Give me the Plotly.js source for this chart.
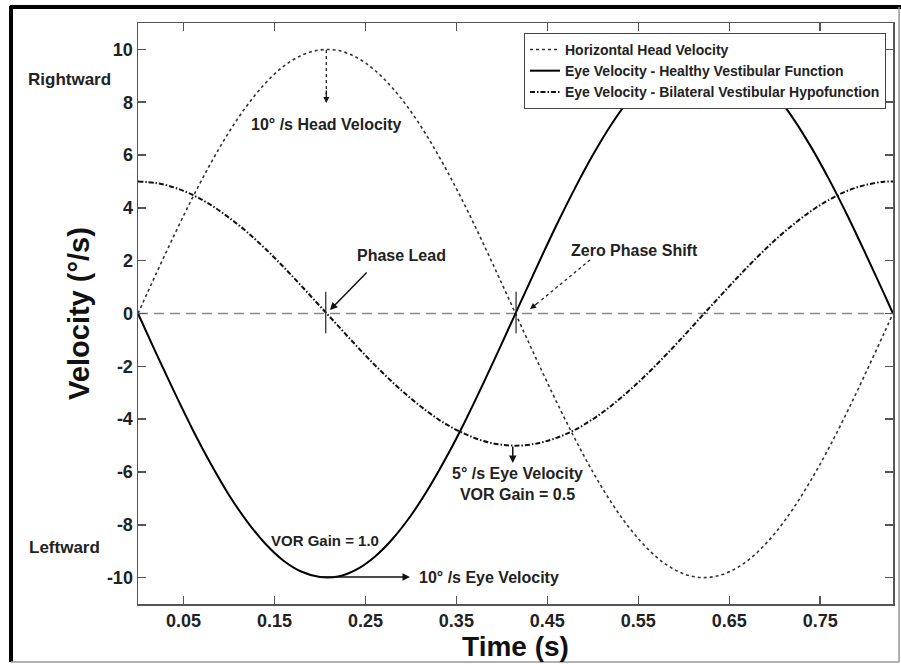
<!DOCTYPE html>
<html>
<head>
<meta charset="utf-8">
<script src="https://cdn.plot.ly/plotly-3.0.1.min.js"></script>
<style>html,body{margin:0;padding:0;background:#fff;}#chart{width:901px;height:664px;}</style>
</head>
<body>
<div id="chart"></div>
<script>
// Time (s)
const time = [0,0.02,0.04,0.06,0.08,0.10,0.12,0.14,0.16,0.18,0.20,0.22,0.24,0.26,0.28,0.30,0.32,0.34,0.36,0.38,0.40,0.42,0.44,0.46,0.48,0.50,0.52,0.54,0.56,0.58,0.60,0.62,0.64,0.66,0.68,0.70,0.72,0.74,0.76,0.78,0.80,0.82,0.83];
// Horizontal head velocity (deg/s)
const headVelocity = [0,1.51,2.98,4.39,5.69,6.87,7.88,8.72,9.36,9.78,9.98,9.96,9.70,9.22,8.53,7.65,6.59,5.38,4.05,2.62,1.13,-0.38,-1.88,-3.34,-4.72,-6.00,-7.14,-8.11,-8.90,-9.49,-9.86,-10.0,-9.91,-9.60,-9.07,-8.33,-7.40,-6.30,-5.06,-3.70,-2.25,-0.76,0];
// Eye velocity, healthy vestibular function (deg/s)
const eyeHealthy = [0,-1.51,-2.98,-4.39,-5.69,-6.87,-7.88,-8.72,-9.36,-9.78,-9.98,-9.96,-9.70,-9.22,-8.53,-7.65,-6.59,-5.38,-4.05,-2.62,-1.13,0.38,1.88,3.34,4.72,6.00,7.14,8.11,8.90,9.49,9.86,10.0,9.91,9.60,9.07,8.33,7.40,6.30,5.06,3.70,2.25,0.76,0];
// Eye velocity, bilateral vestibular hypofunction (deg/s)
const eyeHypo = [5.0,4.94,4.77,4.49,4.11,3.63,3.08,2.45,1.76,1.03,0.28,-0.47,-1.22,-1.94,-2.61,-3.22,-3.76,-4.22,-4.57,-4.83,-4.97,-5.0,-4.91,-4.71,-4.41,-4.00,-3.50,-2.92,-2.28,-1.58,-0.85,-0.09,0.66,1.40,2.11,2.77,3.36,3.88,4.31,4.65,4.87,4.99,5.0];
const seriesNames = ["Horizontal Head Velocity","Eye Velocity - Healthy Vestibular Function","Eye Velocity - Bilateral Vestibular Hypofunction"];
const xTickVals = [0.05,0.15,0.25,0.35,0.45,0.55,0.65,0.75];
const xTickText = ["0.05","0.15","0.25","0.35","0.45","0.55","0.65","0.75"];
const yTickVals = [-10,-8,-6,-4,-2,0,2,4,6,8,10];
const yTickText = ["-10","-8","-6","-4","-2","0","2","4","6","8","10"];

const FONT = "Liberation Sans, Arial, Helvetica, sans-serif";

const traces = [
  {x: time, y: headVelocity, name: seriesNames[0], mode: "lines",
   line: {color: "#333", width: 1.6, dash: "dot", shape: "spline"}},
  {x: time, y: eyeHealthy, name: seriesNames[1], mode: "lines",
   line: {color: "#000", width: 2, shape: "spline"}},
  {x: time, y: eyeHypo, name: seriesNames[2], mode: "lines",
   line: {color: "#111", width: 2, dash: "5px,2px,1.5px,2px", shape: "spline"}}
];

const axisCommon = {
  showline: true, linecolor: "#555", linewidth: 1.5, mirror: "ticks",
  ticks: "inside", ticklen: 8, tickwidth: 1.5, tickcolor: "#555",
  showgrid: false, zeroline: false,
  tickfont: {family: FONT, size: 18, color: "#222", weight: "bold"}
};

const ann = [];
function txt(text, x, y, size, opts) {
  ann.push(Object.assign({text: text, x: x, y: y, xref: "x", yref: "y", showarrow: false,
    font: {family: FONT, size: size, color: "#222", weight: "bold"}}, opts || {}));
}
function arrow(x, y, ax, ay, w) {
  ann.push({text: "", x: x, y: y, ax: ax, ay: ay, xref: "x", yref: "y", axref: "x", ayref: "y",
    showarrow: true, arrowhead: 2, arrowsize: 1, arrowwidth: w || 1.5, arrowcolor: "#111"});
}
txt("10° /s Head Velocity", 0.207, 7.14, 16);
txt("Phase Lead", 0.290, 2.18, 16);
txt("Zero Phase Shift", 0.546, 2.37, 16);
txt("5° /s Eye Velocity<br>VOR Gain = 0.5", 0.417, -6.47, 16);
txt("VOR Gain = 1.0", 0.206, -8.58, 15);
txt("10° /s Eye Velocity", 0.307, -9.98, 16, {xanchor: "left"});
ann.push({text: "Rightward", xref: "paper", yref: "paper", x: -0.0901, y: 0.9036, xanchor: "center", yanchor: "middle", showarrow: false,
  font: {family: FONT, size: 17, color: "#222", weight: "bold"}});
ann.push({text: "Leftward", xref: "paper", yref: "paper", x: -0.098, y: 0.0981, xanchor: "center", yanchor: "middle", showarrow: false,
  font: {family: FONT, size: 17, color: "#222", weight: "bold"}});

arrow(0.207, 7.97, 0.207, 8.5, 1.2);
arrow(0.211, 0.13, 0.253, 1.61, 1.5);
arrow(0.431, 0.17, 0.442, 0.47, 1.2);
arrow(0.412, -5.66, 0.412, -4.98, 1.5);
arrow(0.299, -9.98, 0.198, -9.98, 1.5);

const shapes = [
  // zero reference line
  {type: "line", xref: "x", yref: "y", x0: 0, x1: 0.83, y0: 0, y1: 0, layer: "below",
   line: {color: "#888", width: 1.5, dash: "10px,6px"}},
  // phase markers
  {type: "line", xref: "x", yref: "y", x0: 0.2064, x1: 0.2064, y0: 0.82, y1: -0.75, line: {color: "#222", width: 1.2}},
  {type: "line", xref: "x", yref: "y", x0: 0.4156, x1: 0.4156, y0: 0.82, y1: -0.75, line: {color: "#222", width: 1.2}},
  // dotted arrow shafts
  {type: "line", xref: "x", yref: "y", x0: 0.207, x1: 0.207, y0: 9.98, y1: 8.3, line: {color: "#222", width: 1.3, dash: "dot"}},
  {type: "line", xref: "x", yref: "y", x0: 0.497, x1: 0.442, y0: 2.03, y1: 0.47, line: {color: "#222", width: 1.3, dash: "dot"}},
  // outer frame
  {type: "line", xref: "paper", yref: "paper", x0: -0.1695, x1: 1.0120, y0: 1.0275, y1: 1.0275, line: {color: "#000", width: 4}},
  {type: "line", xref: "paper", yref: "paper", x0: -0.1682, x1: -0.1682, y0: 1.0295, y1: -0.0998, line: {color: "#000", width: 4}},
  {type: "line", xref: "paper", yref: "paper", x0: -0.1682, x1: 1.0080, y0: -0.0998, y1: -0.0998, line: {color: "#999", width: 1.5}},
  {type: "line", xref: "paper", yref: "paper", x0: 1.0080, x1: 1.0080, y0: 1.0275, y1: -0.0998, line: {color: "#999", width: 1.5}}
];

const layout = {
  width: 901, height: 664,
  margin: {l: 138, r: 8, t: 23, b: 60},
  paper_bgcolor: "#fff", plot_bgcolor: "#fff",
  font: {family: FONT, color: "#222", weight: "bold"},
  showlegend: true,
  legend: {x: 0.9907, xanchor: "right", y: 0.983, yanchor: "top",
    bgcolor: "#fff", bordercolor: "#444", borderwidth: 1,
    font: {family: FONT, size: 14, color: "#222", weight: "bold"},
    tracegroupgap: 0, itemwidth: 30},
  xaxis: Object.assign({}, axisCommon, {range: [0, 0.83], tickvals: xTickVals, ticktext: xTickText,
    title: {text: "Time (s)", font: {family: FONT, size: 28, color: "#111", weight: "bold"}, standoff: 6}}),
  yaxis: Object.assign({}, axisCommon, {range: [-11, 11], tickvals: yTickVals, ticktext: yTickText,
    title: {text: "Velocity (°/s)", font: {family: FONT, size: 29, color: "#111", weight: "bold"}, standoff: 8}}),
  annotations: ann,
  shapes: shapes
};

Plotly.newPlot("chart", traces, layout, {staticPlot: true, displayModeBar: false});
</script>
</body>
</html>
